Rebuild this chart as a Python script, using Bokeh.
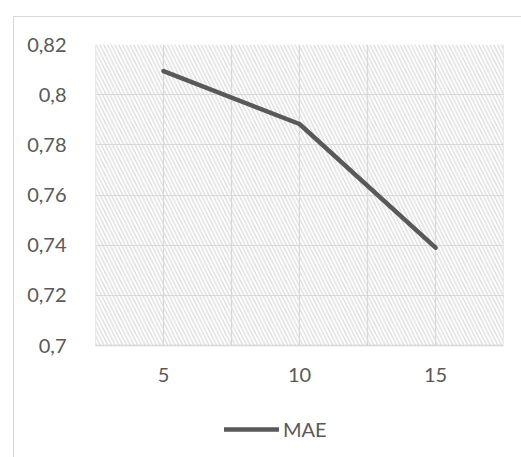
from bokeh.plotting import figure
from bokeh.models import (FixedTicker, BoxAnnotation, Legend, LegendItem,
                          ColumnDataSource, Range1d)
from bokeh.core.properties import value
from bokeh.embed import file_html
from bokeh.resources import INLINE

# Number of recommendations vs. mean absolute error
x_values = [5, 10, 15]
mae_values = [0.8094, 0.7883, 0.7390]
series_name = "MAE"

y_ticks = [0.7, 0.72, 0.74, 0.76, 0.78, 0.8, 0.82]
y_tick_labels = ["0,7", "0,72", "0,74", "0,76", "0,78", "0,8", "0,82"]
x_ticks = [5, 10, 15]
x_tick_labels = ["5", "10", "15"]
x_grid = [2.5, 5, 7.5, 10, 12.5, 15, 17.5]

TEXT = "#595959"
GRID = "#d9d9d9"
FONT = "Lato"

# layout (pixels): plot box top at 44, value axis spans 301 px, canvas 457 px tall
W, H = 521, 457
TOP, SPAN = 44, 301
y_lo, y_hi = y_ticks[0], y_ticks[-1]
per_px = (y_hi - y_lo) / SPAN
x_lo, x_hi = x_grid[0], x_grid[-1]

# the frame runs down to the canvas bottom so the legend row sits inside it
p = figure(width=W, height=H, output_backend="svg", toolbar_location=None,
           x_range=Range1d(x_lo, x_hi),
           y_range=Range1d(y_hi - per_px * (H - TOP), y_hi),
           x_axis_location=None,
           min_border_left=95, min_border_right=18,
           min_border_top=TOP, min_border_bottom=0)
p.outline_line_color = None
p.background_fill_color = "white"
p.border_fill_alpha = 0
# page background with the chart-area border (top and left edges)
p.styles = {
    "background": ("linear-gradient(#d9d9d9,#d9d9d9) 13px 16px / 1px 100% no-repeat, "
                   "linear-gradient(#d9d9d9,#d9d9d9) 13px 16px / 100% 1px no-repeat, "
                   "white"),
}

# hatched plot area, under the grid
hatch = BoxAnnotation(bottom=y_lo, fill_color="white", fill_alpha=1.0,
                      line_color=None,
                      hatch_pattern="left_diagonal_line", hatch_color="#dcdcdc",
                      hatch_weight=1.3, hatch_scale=7.5, level="image")
p.add_layout(hatch)

# value axis
p.yaxis.ticker = FixedTicker(ticks=y_ticks)
p.yaxis.major_label_overrides = dict(zip(y_ticks, y_tick_labels))
p.yaxis.major_tick_line_color = None
p.yaxis.minor_tick_line_color = None
p.yaxis.major_label_text_font = FONT
p.yaxis.major_label_text_font_size = "20px"
p.yaxis.major_label_text_color = TEXT
p.yaxis.axis_line_color = None
p.yaxis.major_label_standoff = 23

# horizontal grid
p.xgrid.visible = False
p.ygrid.ticker = FixedTicker(ticks=y_ticks)
p.ygrid.grid_line_color = GRID
p.ygrid.grid_line_width = 1.2

# vertical grid, limited to the plot box
p.segment(x0=x_grid, x1=x_grid, y0=[y_lo] * len(x_grid),
          y1=[y_hi] * len(x_grid), line_color=GRID, line_width=1.2,
          level="underlay")

# category axis line and labels
p.segment(x0=[x_lo], x1=[x_hi], y0=[y_lo], y1=[y_lo], line_color="#d0d0d0",
          line_width=1.3, level="underlay")
p.text(x=x_ticks, y=[y_lo] * len(x_ticks), text=x_tick_labels,
       text_align="center", text_baseline="top", y_offset=22,
       text_font=value(FONT), text_font_size="20px", text_color=TEXT)

src = ColumnDataSource(data=dict(x=x_values, y=mae_values))
r = p.line("x", "y", source=src, line_color="#595959", line_width=4.5,
           line_cap="round", line_join="round")

legend = Legend(items=[LegendItem(label=series_name, renderers=[r])],
                location=(129, 16), orientation="horizontal",
                glyph_width=55, glyph_height=20, label_standoff=4,
                label_text_font=FONT, label_text_font_size="20px",
                label_text_color=TEXT, border_line_color=None,
                background_fill_alpha=0, padding=0, margin=0)
p.add_layout(legend)

open("out.html", "w").write(file_html(p, INLINE))
